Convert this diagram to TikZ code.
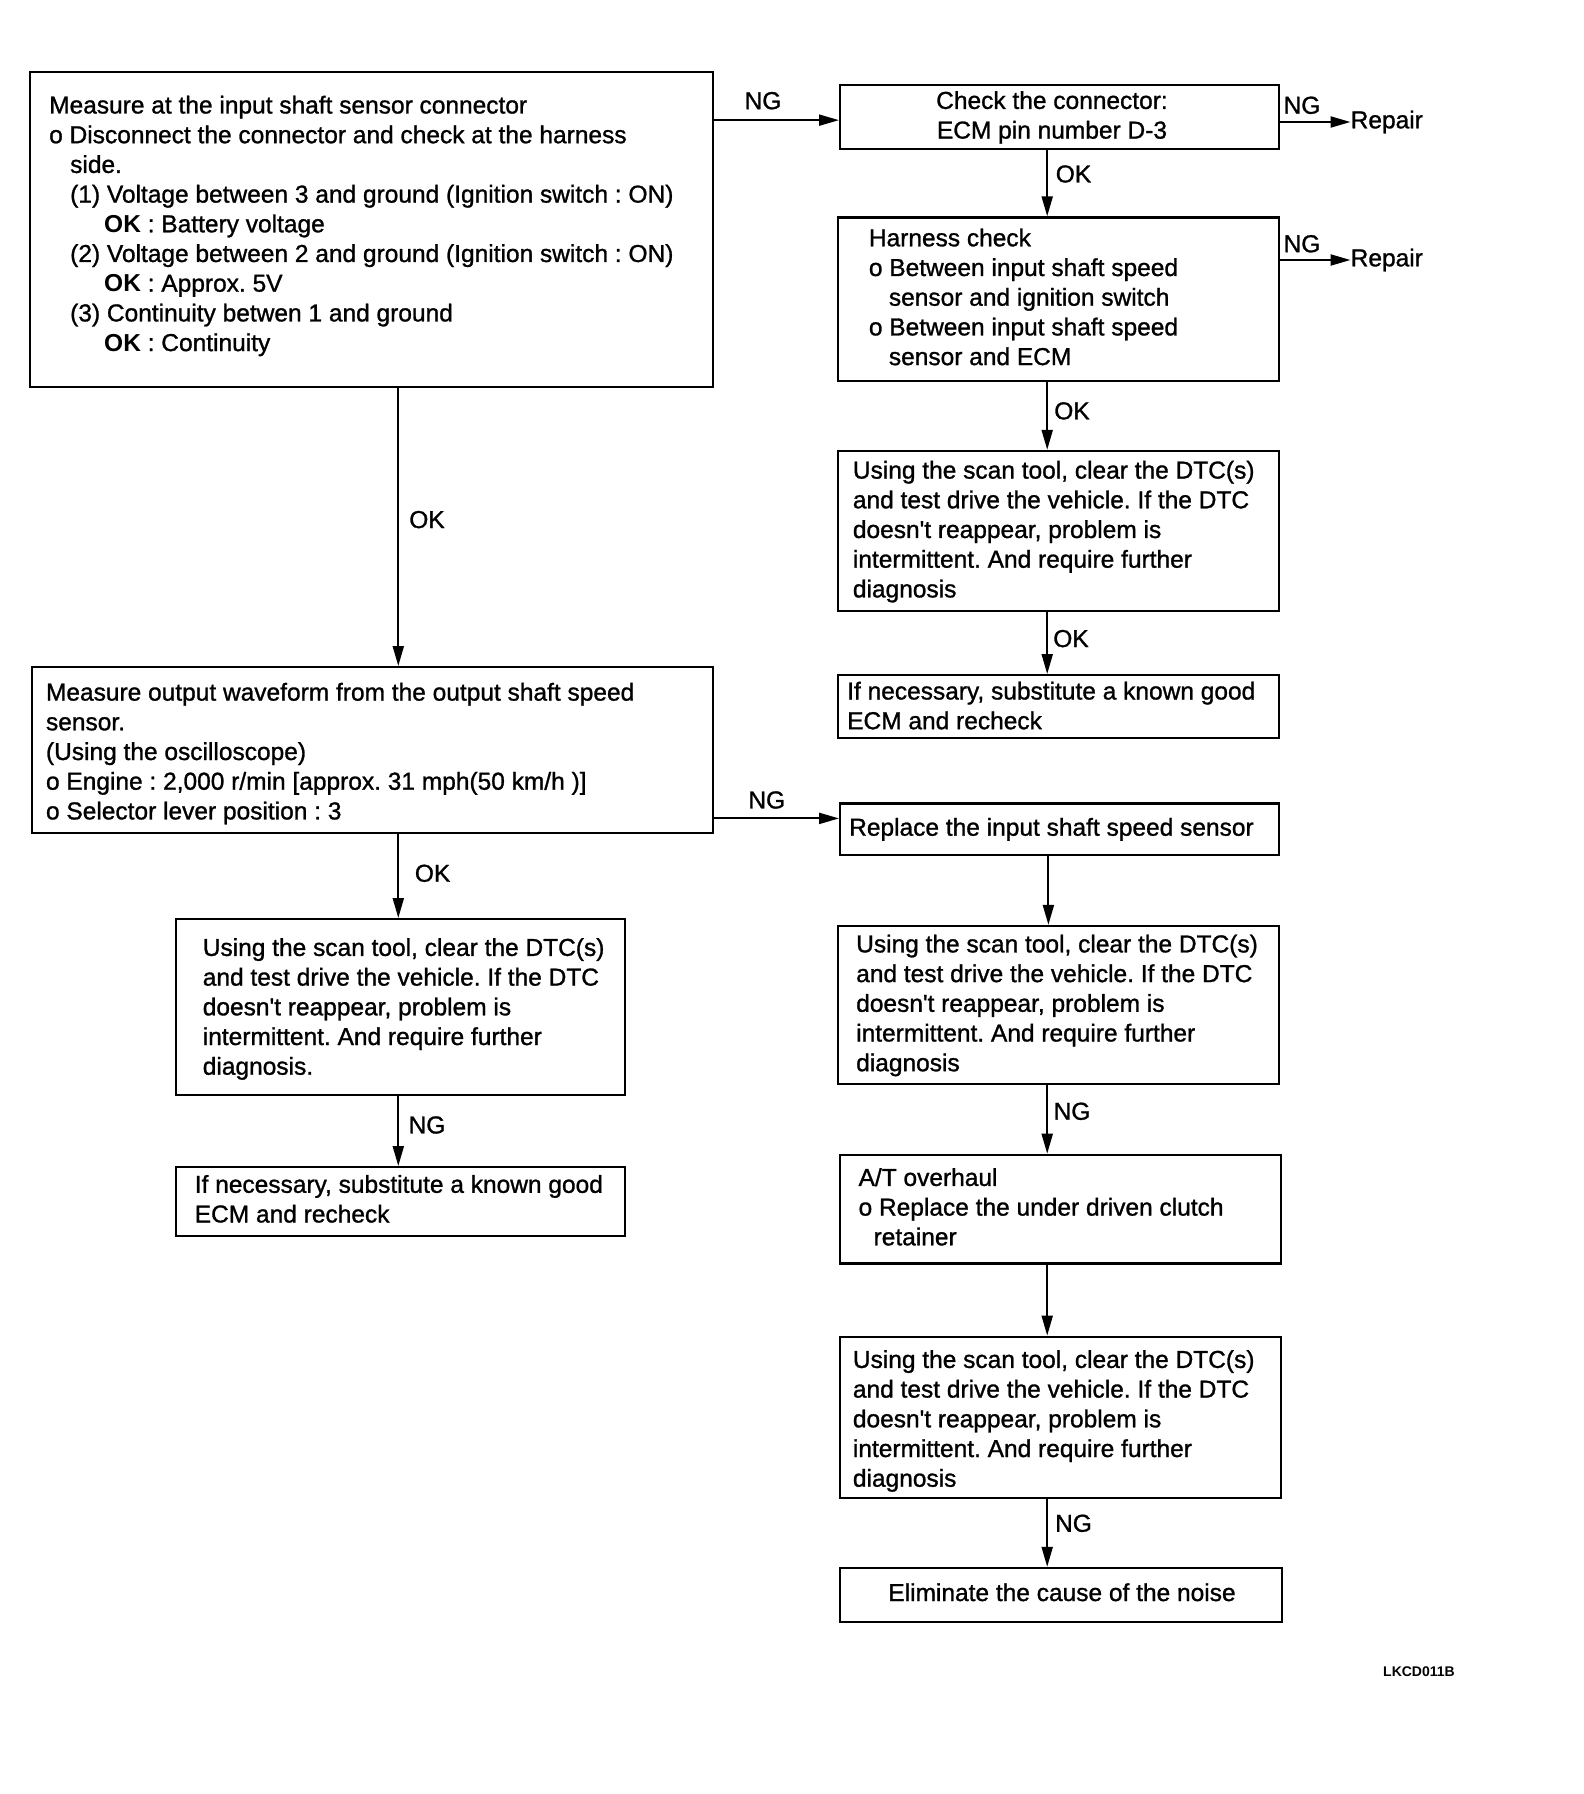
\documentclass[tikz,border=0pt]{standalone}
\usepackage{fontspec}
\setmainfont{Liberation Sans}[UprightFeatures={FakeBold=1.1}]
\usetikzlibrary{arrows.meta}
\newcommand{\fs}{\fontsize{24.5}{29.7}\selectfont}
\newcommand{\ap}{\textquotesingle}
\frenchspacing
\begin{document}
\begin{tikzpicture}[x=1pt,y=-1pt,
  box/.style={draw, line width=2.3pt, inner sep=0pt, anchor=north west},
  txt/.style={inner sep=0pt, anchor=north west, align=left, font=\fs},
  lbl/.style={inner sep=0pt, font=\fs},
  arr/.style={line width=2.1pt, -{Triangle[length=20pt,width=11pt]}}]
\useasboundingbox[fill=white] (0,0) rectangle (1584,1794);
% boxes
\node[box, minimum width=683.4pt, minimum height=315pt] (b1) at (28.6,71) {};
\node[box, minimum width=439pt, minimum height=64pt] (b2) at (839,83.5) {};
\node[box, minimum width=441.4pt, minimum height=163.7pt] (b3) at (836.6,216.3) {};
\node[box, minimum width=441.4pt, minimum height=160.2pt] (b4) at (836.6,449.8) {};
\node[box, minimum width=441.4pt, minimum height=63pt] (b5) at (836.6,674) {};
\node[box, minimum width=681.1pt, minimum height=166pt] (b6) at (30.9,666) {};
\node[box, minimum width=439pt, minimum height=51.5pt] (b7) at (839,802.3) {};
\node[box, minimum width=448.7pt, minimum height=176pt] (b8) at (175,918) {};
\node[box, minimum width=448.7pt, minimum height=69pt] (b9) at (175,1166) {};
\node[box, minimum width=441.4pt, minimum height=157.9pt] (b10) at (836.6,924.8) {};
\node[box, minimum width=440.5pt, minimum height=108.7pt] (b11) at (839,1153.7) {};
\node[box, minimum width=440.5pt, minimum height=161.4pt] (b12) at (839,1335.6) {};
\node[box, minimum width=441.7pt, minimum height=53.8pt] (b13) at (839,1566.8) {};
% texts
\node[txt] (t1) at (49,92.5) {\strut Measure at the input shaft sensor connector\\
o Disconnect the connector and check at the harness\\
\hspace*{21pt}side.\\
\hspace*{21pt}(1) Voltage between 3 and ground (Ignition switch : ON)\\
\hspace*{55pt}\textbf{OK} : Battery voltage\\
\hspace*{21pt}(2) Voltage between 2 and ground (Ignition switch : ON)\\
\hspace*{55pt}\textbf{OK} : Approx. 5V\\
\hspace*{21pt}(3) Continuity betwen 1 and ground\\
\hspace*{55pt}\textbf{OK} : Continuity};
\node[txt, anchor=north, align=center] (t2) at (1052,87.9) {\strut Check the connector:\\ECM pin number D-3};
\node[txt] (t3) at (868.7,225.3) {\strut Harness check\\
o Between input shaft speed\\
\hspace*{20pt}sensor and ignition switch\\
o Between input shaft speed\\
\hspace*{20pt}sensor and ECM};
\node[txt] (t4) at (852.7,457.6) {\strut Using the scan tool, clear the DTC(s)\\
and test drive the vehicle. If the DTC\\
doesn\ap t reappear, problem is\\
intermittent. And require further\\
diagnosis};
\node[txt] (t5) at (847,678.5) {\strut If necessary, substitute a known good\\ECM and recheck};
\node[txt] (t6) at (45.8,679.6) {\strut Measure output waveform from the output shaft speed\\
sensor.\\
(Using the oscilloscope)\\
o Engine : 2,000 r/min [approx. 31 mph(50 km/h )]\\
o Selector lever position : 3};
\node[txt] (t7) at (849,814.7) {\strut Replace the input shaft speed sensor};
\node[txt] (t8) at (202.6,934.9) {\strut Using the scan tool, clear the DTC(s)\\
and test drive the vehicle. If the DTC\\
doesn\ap t reappear, problem is\\
intermittent. And require further\\
diagnosis.};
\node[txt] (t9) at (194.6,1171.8) {\strut If necessary, substitute a known good\\ECM and recheck};
\node[txt] (t10) at (856,931.4) {\strut Using the scan tool, clear the DTC(s)\\
and test drive the vehicle. If the DTC\\
doesn\ap t reappear, problem is\\
intermittent. And require further\\
diagnosis};
\node[txt] (t11) at (858.4,1164.9) {\strut A/T overhaul\\
o Replace the under driven clutch\\
\hspace*{15pt}retainer};
\node[txt] (t12) at (852.7,1346.9) {\strut Using the scan tool, clear the DTC(s)\\
and test drive the vehicle. If the DTC\\
doesn\ap t reappear, problem is\\
intermittent. And require further\\
diagnosis};
\node[lbl, anchor=base] (t13) at (1062,1601) {Eliminate the cause of the noise};
% repair targets
\node[lbl, anchor=west] (r1) at (1350.5,122) {Repair};
\node[lbl, anchor=west] (r2) at (1350.5,260) {Repair};
% connectors
\path (b1.east |- b2.west) ++(0,3.5) coordinate (h1);
\draw[arr] (h1) -- (h1 -| b2.west);
\draw[arr] (b2.east |- r1.west) -- (r1.west);
\draw[arr] (b3.east |- r2.west) -- (r2.west);
\draw[arr] ([xshift=208.2pt]b2.south west) coordinate (v1) -- (v1 |- b3.north);
\draw[arr] ([xshift=210.6pt]b3.south west) coordinate (v2) -- (v2 |- b4.north);
\draw[arr] ([xshift=210.6pt]b4.south west) coordinate (v3) -- (v3 |- b5.north);
\draw[arr] ([xshift=369.7pt]b1.south west) coordinate (v4) -- (v4 |- b6.north);
\path ([yshift=10.8pt]b7.west) coordinate (h2);
\draw[arr] (b6.east |- h2) -- (h2);
\draw[arr] ([xshift=367.4pt]b6.south west) coordinate (v5) -- (v5 |- b8.north);
\draw[arr] ([xshift=223.3pt]b8.south west) coordinate (v6) -- (v6 |- b9.north);
\draw[arr] ([xshift=209.4pt]b7.south west) coordinate (v7) -- (v7 |- b10.north);
\draw[arr] ([xshift=210.6pt]b10.south west) coordinate (v8) -- (v8 |- b11.north);
\draw[arr] ([xshift=208.2pt]b11.south west) coordinate (v9) -- (v9 |- b12.north);
\draw[arr] ([xshift=208.2pt]b12.south west) coordinate (v10) -- (v10 |- b13.north);
% labels
\node[lbl] (l1) at (763,100.7) {NG};
\node[lbl] (l2) at (1302,105.3) {NG};
\node[lbl] (l3) at (1073.5,174) {OK};
\node[lbl] (l4) at (1302,243.8) {NG};
\node[lbl] (l5) at (1072,410.9) {OK};
\node[lbl] (l6) at (1071,638.6) {OK};
\node[lbl] (l7) at (427,519.6) {OK};
\node[lbl] (l8) at (766.8,800) {NG};
\node[lbl] (l9) at (432.6,873.3) {OK};
\node[lbl] (l10) at (427,1125) {NG};
\node[lbl] (l11) at (1072,1111.3) {NG};
\node[lbl] (l12) at (1073.5,1523.3) {NG};
\node[inner sep=0pt, font=\fontsize{14}{16}\selectfont\bfseries] (code) at (1419,1672) {LKCD011B};
\end{tikzpicture}
\end{document}
